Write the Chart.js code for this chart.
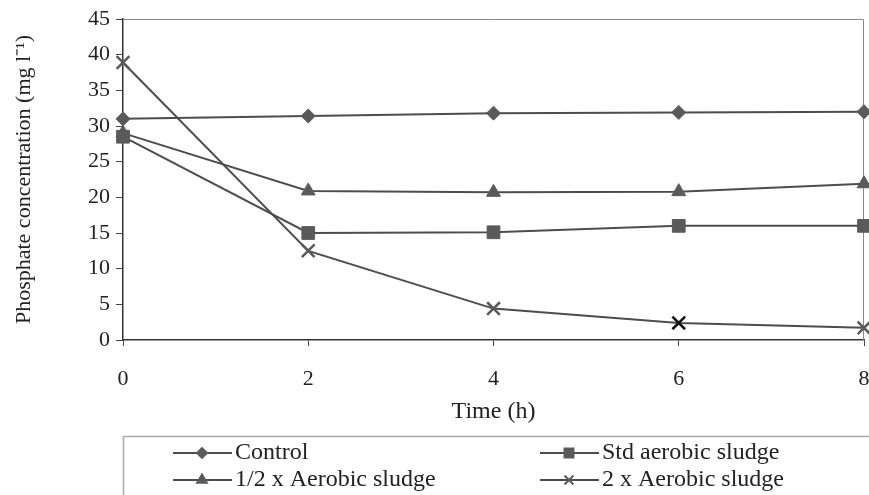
<!DOCTYPE html>
<html>
<head>
<meta charset="utf-8">
<script src="https://cdn.jsdelivr.net/npm/chart.js@4.4.1/dist/chart.umd.min.js"></script>
<style>
  html, body { margin: 0; padding: 0; background: #fff; }
  #wrap { width: 869px; height: 495px; }
</style>
</head>
<body>
<div id="wrap"><canvas id="chart" width="869" height="495"></canvas></div>
<script>
const times = [0, 2, 4, 6, 8];
const control = [31.0, 31.4, 31.8, 31.9, 32.0];
const stdSludge = [28.5, 15.0, 15.1, 16.0, 16.0];
const halfSludge = [29.0, 20.9, 20.7, 20.8, 21.9];
const doubleSludge = [38.9, 12.5, 4.4, 2.4, 1.7];
const seriesNames = ['Control', 'Std aerobic sludge', '1/2 x Aerobic sludge', '2 x Aerobic sludge'];

const serif = '"Liberation Serif", "Times New Roman", serif';
const lineGray = '#4d4d4d';
const markGray = '#5a5a5a';

function pts(vals) {
    return times.map((t, i) => ({ x: t, y: vals[i] }));
}

// plot frame (top and right edges are lighter than the axes)
const frame = {
    id: 'frame',
    beforeDatasetsDraw(chart) {
        const a = chart.chartArea;
        const ctx = chart.ctx;
        ctx.save();
        ctx.strokeStyle = '#8a8a8a';
        ctx.lineWidth = 1;
        ctx.beginPath();
        ctx.moveTo(a.left, a.top + 0.5);
        ctx.lineTo(a.right - 0.5, a.top + 0.5);
        ctx.lineTo(a.right - 0.5, a.bottom);
        ctx.stroke();
        ctx.restore();
    }
};

// boxed legend in two columns like the original
const boxLegend = {
    id: 'boxLegend',
    afterDraw(chart) {
        const ctx = chart.ctx;
        ctx.save();
        ctx.strokeStyle = '#a8a8a8';
        ctx.lineWidth = 1.5;
        ctx.strokeRect(123.5, 436.5, 800, 100);
        const cols = [173, 540];
        const rows = [453, 480];
        chart.data.datasets.forEach((ds, k) => {
            const x = cols[k % 2];
            const y = rows[Math.floor(k / 2)];
            ctx.strokeStyle = lineGray;
            ctx.lineWidth = 2;
            ctx.beginPath();
            ctx.moveTo(x, y);
            ctx.lineTo(x + 59, y);
            ctx.stroke();
            ctx.fillStyle = markGray;
            ctx.strokeStyle = markGray;
            Chart.helpers.drawPoint(ctx, {
                pointStyle: ds.pointStyle,
                radius: ds.pointRadius * 0.7,
                borderWidth: ds.pointBorderWidth,
                rotation: 0
            }, x + 29, y);
            ctx.fillStyle = '#222';
            ctx.font = '24px ' + serif;
            ctx.textBaseline = 'middle';
            ctx.textAlign = 'left';
            ctx.fillText(ds.label, x + 62, y);
        });
        ctx.restore();
    }
};

const ctx = document.getElementById('chart').getContext('2d');
const chart = new Chart(ctx, {
    type: 'line',
    data: {
        datasets: [{
            label: seriesNames[0],
            data: pts(control),
            pointStyle: 'rectRot',
            pointRadius: 7,
            pointBorderWidth: 1
        }, {
            label: seriesNames[1],
            data: pts(stdSludge),
            pointStyle: 'rect',
            pointRadius: 9,
            pointBorderWidth: 1
        }, {
            label: seriesNames[2],
            data: pts(halfSludge),
            pointStyle: 'triangle',
            pointRadius: 8,
            pointBorderWidth: 1
        }, {
            label: seriesNames[3],
            data: pts(doubleSludge),
            pointStyle: 'crossRot',
            pointRadius: 9,
            pointBorderWidth: 2.5,
            pointBorderColor: [markGray, markGray, markGray, '#111', markGray]
        }].map(ds => Object.assign({
            borderColor: lineGray,
            borderWidth: 2,
            backgroundColor: markGray,
            pointBackgroundColor: markGray,
            pointBorderColor: markGray,
            tension: 0,
            fill: false,
            clip: false
        }, ds))
    },
    options: {
        responsive: false,
        animation: false,
        layout: { autoPadding: false, padding: { top: 19, right: 5, bottom: 65, left: 0 } },
        plugins: {
            legend: { display: false },
            tooltip: { enabled: false }
        },
        scales: {
            x: {
                type: 'linear',
                min: 0,
                max: 8,
                ticks: {
                    stepSize: 2,
                    padding: 20,
                    color: '#222',
                    font: { family: serif, size: 22 }
                },
                grid: { drawOnChartArea: false, tickLength: 6, color: '#444' },
                border: { color: '#333', width: 1.5 },
                title: {
                    display: true,
                    text: 'Time (h)',
                    color: '#222',
                    font: { family: serif, size: 24 },
                    padding: { top: 0, bottom: 4 }
                },
                afterFit(scale) {
                    scale.height = 90;
                    scale.paddingLeft = 0;
                    scale.paddingRight = 0;
                }
            },
            y: {
                min: 0,
                max: 45,
                ticks: {
                    stepSize: 5,
                    padding: 6,
                    color: '#222',
                    font: { family: serif, size: 22 }
                },
                grid: { drawOnChartArea: false, tickLength: 7, color: '#444' },
                border: { color: '#333', width: 1.5 },
                title: {
                    display: true,
                    text: 'Phosphate concentration (mg l\u207B\u00B9)',
                    color: '#222',
                    font: { family: serif, size: 22 },
                    padding: { top: 11, bottom: 0 }
                },
                afterFit(scale) {
                    scale.width = 123;
                    scale.paddingTop = 0;
                    scale.paddingBottom = 0;
                }
            }
        }
    },
    plugins: [frame, boxLegend]
});
</script>
</body>
</html>
